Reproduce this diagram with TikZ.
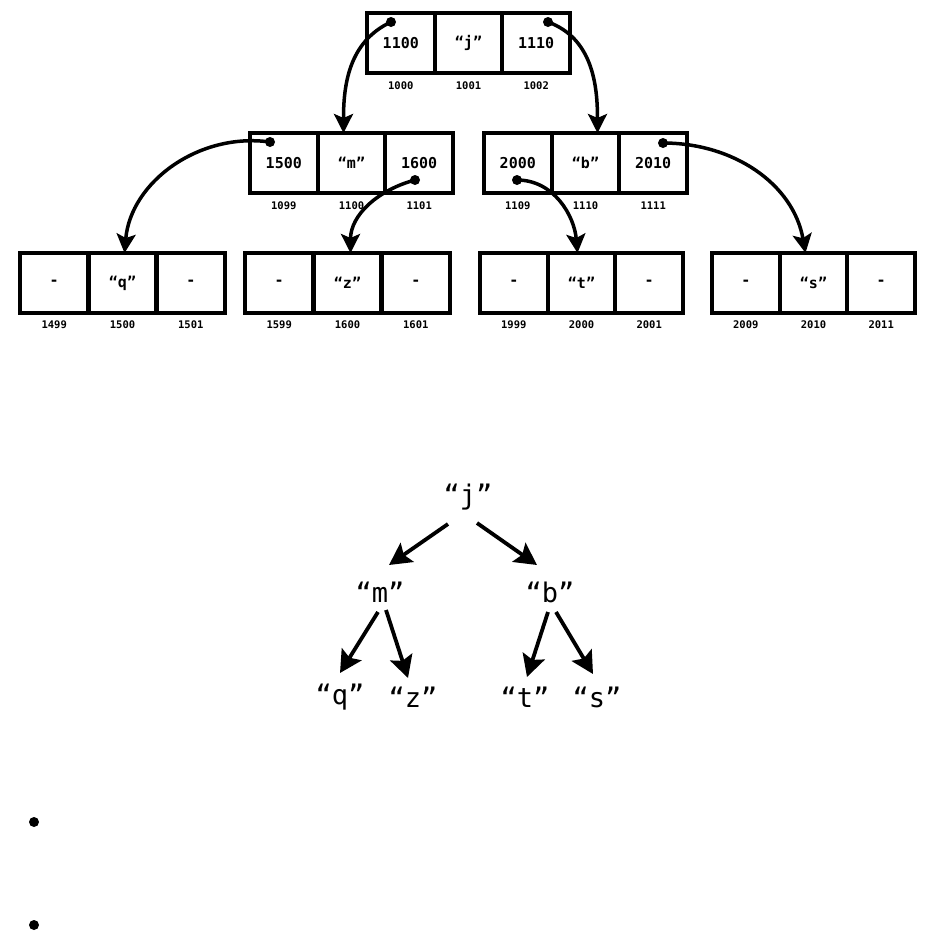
\documentclass[tikz,border=0pt]{standalone}
\usepackage{fontspec}
\newfontfamily\mono{DejaVu Sans Mono}
\usetikzlibrary{arrows.meta}
\begin{document}
\begin{tikzpicture}[x=1pt,y=-1pt,
  cell/.style={draw, line width=4pt, minimum width=67.7pt, minimum height=60pt, inner sep=0pt, outer sep=0pt, font=\mono\bfseries\fontsize{15}{15}\selectfont},
  addr/.style={inner sep=0pt, font=\mono\bfseries\fontsize{10.5}{10.5}\selectfont},
  tnode/.style={inner sep=2pt, font=\mono\fontsize{27}{27}\selectfont},
  ptr/.style={line width=3.5pt, -{Stealth[length=19pt,width=19pt,inset=4pt]}},
  tarr/.style={line width=3.8pt, -{Stealth[length=22pt,width=23pt,inset=4pt]}},
  dotn/.style={circle, fill, inner sep=0pt, minimum size=10pt},
  bullet/.style={circle, fill, inner sep=0pt, minimum size=10pt}]
\useasboundingbox (0,0) rectangle (937,930);

% top array
\node[cell] (a1) at (400.8,43) {1100};
\node[cell] (a2) at (468.5,43) {“j”};
\node[cell] (a3) at (536.2,43) {1110};
\node[addr] (la1) at (400.8,86) {1000};
\node[addr] (la2) at (468.5,86) {1001};
\node[addr] (la3) at (536.2,86) {1002};

% second row left
\node[cell] (b1) at (283.8,163) {1500};
\node[cell] (b2) at (351.5,163) {“m”};
\node[cell] (b3) at (419.2,163) {1600};
\node[addr] (lb1) at (283.8,206) {1099};
\node[addr] (lb2) at (351.5,206) {1100};
\node[addr] (lb3) at (419.2,206) {1101};

% second row right
\node[cell] (c1) at (517.8,163) {2000};
\node[cell] (c2) at (585.5,163) {“b”};
\node[cell] (c3) at (653.2,163) {2010};
\node[addr] (lc1) at (517.8,206) {1109};
\node[addr] (lc2) at (585.5,206) {1110};
\node[addr] (lc3) at (653.2,206) {1111};

% third row
\node[cell] (d1) at (54.2,283) {-};
\node[cell] (d2) at (122.5,283) {“q”};
\node[cell] (d3) at (190.8,283) {-};
\node[addr] (ld1) at (54.2,325) {1499};
\node[addr] (ld2) at (122.5,325) {1500};
\node[addr] (ld3) at (190.8,325) {1501};

\node[cell] (e1) at (279.2,283) {-};
\node[cell] (e2) at (347.5,283) {“z”};
\node[cell] (e3) at (415.8,283) {-};
\node[addr] (le1) at (279.2,325) {1599};
\node[addr] (le2) at (347.5,325) {1600};
\node[addr] (le3) at (415.8,325) {1601};

\node[cell] (f1) at (513.8,283) {-};
\node[cell] (f2) at (581.5,283) {“t”};
\node[cell] (f3) at (649.2,283) {-};
\node[addr] (lf1) at (513.8,325) {1999};
\node[addr] (lf2) at (581.5,325) {2000};
\node[addr] (lf3) at (649.2,325) {2001};

\node[cell] (g1) at (745.8,283) {-};
\node[cell] (g2) at (813.5,283) {“s”};
\node[cell] (g3) at (881.2,283) {-};
\node[addr] (lg1) at (745.8,325) {2009};
\node[addr] (lg2) at (813.5,325) {2010};
\node[addr] (lg3) at (881.2,325) {2011};

% pointer dots
\node[dotn] (pa1) at (391,22) {};
\node[dotn] (pa3) at (548,22) {};
\node[dotn] (pb1) at (270,142) {};
\node[dotn] (pb3) at (415,180) {};
\node[dotn] (pc1) at (517,180) {};
\node[dotn] (pc3) at (663,143) {};

% pointers
\draw[ptr] (pa1.center) to[out=205,in=90] ([xshift=-8pt]b2.north);
\draw[ptr] (pa3.center) to[out=-20,in=90] ([xshift=12pt]c2.north);
\draw[ptr] (pb1.center) to[out=172,in=85] ([xshift=2pt]d2.north);
\draw[ptr] (pb3.center) to[out=195,in=90] ([xshift=3pt]e2.north);
\draw[ptr] (pc1.center) to[out=0,in=95] ([xshift=-4pt]f2.north);
\draw[ptr] (pc3.center) to[out=0,in=100] ([xshift=-8pt]g2.north);

% logical tree
\node[tnode] (tj) at (468,497) {“j”};
\node[tnode] (tm) at (380,592) {“m”};
\node[tnode] (tb) at (550,592) {“b”};
\node[tnode] (tq) at (340,697) {“q”};
\node[tnode] (tz) at (413,697) {“z”};
\node[tnode] (tt) at (525,697) {“t”};
\node[tnode] (ts) at (597,697) {“s”};

\draw[tarr] ([shift={(-20,27)}]tj.center) -- ([shift={(9,-27)}]tm.center);
\draw[tarr] ([shift={(9,26)}]tj.center) -- ([shift={(-13,-27)}]tb.center);
\draw[tarr] ([shift={(-2,20)}]tm.center) -- ([shift={(0,-24)}]tq.center);
\draw[tarr] ([shift={(6,18)}]tm.center) -- ([shift={(-5,-19)}]tz.center);
\draw[tarr] ([shift={(-2,20)}]tb.center) -- ([shift={(2,-20)}]tt.center);
\draw[tarr] ([shift={(6,20)}]tb.center) -- ([shift={(-4,-23)}]ts.center);

% bullets
\node[bullet] (bu1) at (34,822) {};
\node[bullet] (bu2) at (34,925) {};
\end{tikzpicture}
\end{document}
